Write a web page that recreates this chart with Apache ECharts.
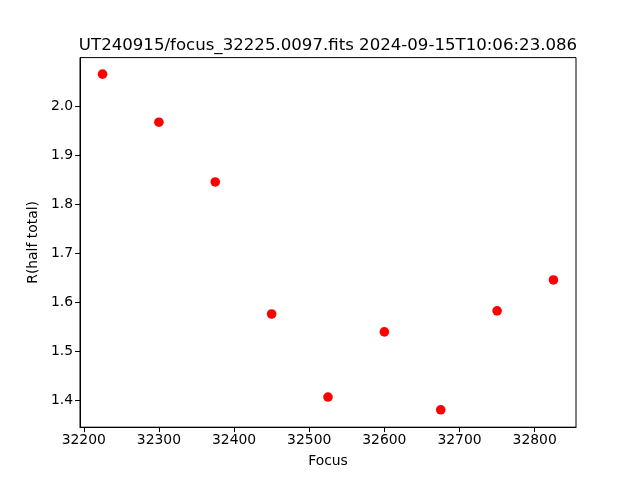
<!DOCTYPE html>
<html><head><meta charset="utf-8">
<script src="https://cdn.jsdelivr.net/npm/echarts@6/dist/echarts.min.js"></script>
<style>html,body{margin:0;padding:0;background:#fff}#c{width:640px;height:480px}</style>
</head><body><div id="c"></div>
<script>
const focusValues = [32225, 32300, 32375, 32450, 32525, 32600, 32675, 32750, 32825];
const rValues = [2.065, 1.967, 1.845, 1.5755, 1.406, 1.539, 1.38, 1.582, 1.645];
const xTicks = [32200, 32300, 32400, 32500, 32600, 32700, 32800];
const yTicks = [1.4, 1.5, 1.6, 1.7, 1.8, 1.9, 2.0];
const titleText = 'UT240915/focus_32225.0097.fits 2024-09-15T10:06:23.086';

const chart = echarts.init(document.getElementById('c'), null, {renderer: 'canvas'});
const font = 'DejaVu Sans';
chart.setOption({
  animation: false,
  backgroundColor: '#fff',
  title: {text: titleText, left: 323, top: 32, textAlign: 'center',
    textStyle: {fontFamily: font, fontSize: 16.6, fontWeight: 'normal', color: '#000'}},
  grid: {left: 80, right: 64, top: 57.6, bottom: 52.8, show: true, borderColor: '#000', borderWidth: 1, containLabel: false},
  xAxis: {type: 'value', min: 32195, max: 32855,
    name: 'Focus', nameLocation: 'middle', nameGap: 27,
    nameTextStyle: {fontFamily: font, fontSize: 13.9, color: '#000'},
    axisLine: {show: true, onZero: false, lineStyle: {color: '#000', width: 1}},
    axisTick: {show: true, inside: false, length: 4.9, customValues: xTicks, lineStyle: {color: '#000'}},
    axisLabel: {customValues: xTicks, fontFamily: font, fontSize: 13.9, color: '#000', margin: 6,
      formatter: v => String(v)},
    splitLine: {show: false}},
  yAxis: {type: 'value', min: 1.3445, max: 2.0988,
    name: 'R(half total)', nameLocation: 'middle', nameGap: 40, nameRotate: 90,
    nameTextStyle: {fontFamily: font, fontSize: 13.9, color: '#000'},
    axisLine: {show: true, onZero: false, lineStyle: {color: '#000', width: 1}},
    axisTick: {show: true, inside: false, length: 4.9, customValues: yTicks, lineStyle: {color: '#000'}},
    axisLabel: {customValues: yTicks, fontFamily: font, fontSize: 13.9, color: '#000', margin: 7,
      formatter: v => v.toFixed(1)},
    splitLine: {show: false}},
  series: [{type: 'scatter', symbol: 'circle', symbolSize: 9.6,
    itemStyle: {color: '#ff0000', opacity: 1},
    data: focusValues.map((f, i) => [f, rValues[i]])}]
});
</script></body></html>
